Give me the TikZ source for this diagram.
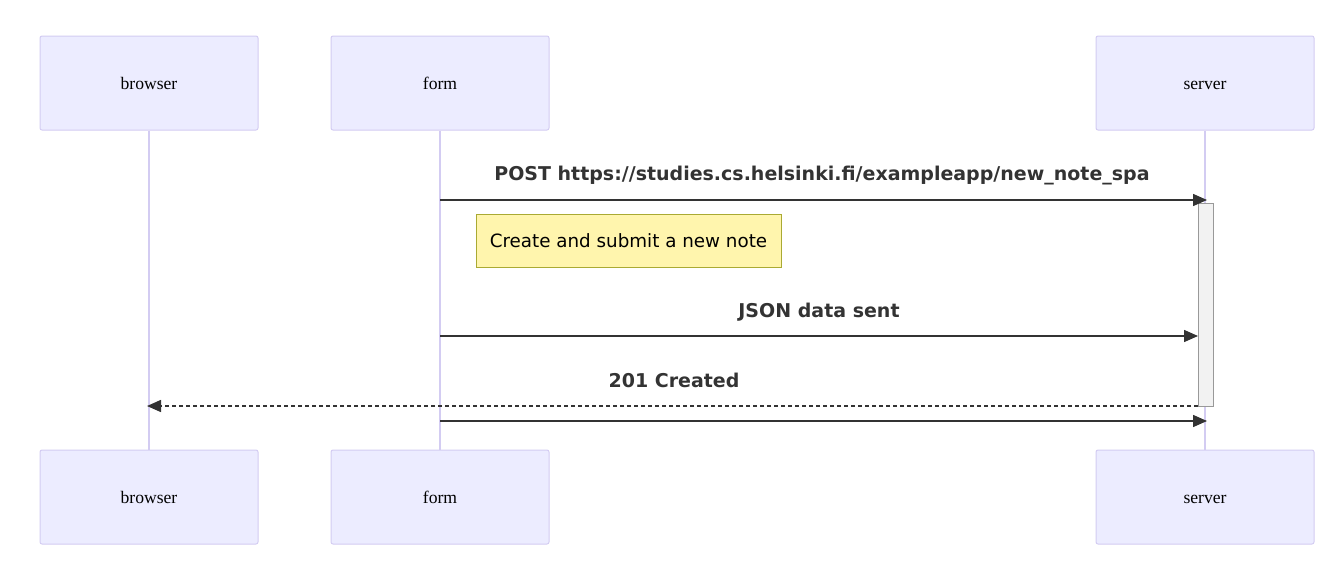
\documentclass[tikz,border=0pt]{standalone}
\usepackage{fontspec}
\setmainfont{Liberation Serif}
\newfontfamily\lblfont{DejaVu Sans}
\usetikzlibrary{arrows.meta}
\definecolor{actfill}{HTML}{ECECFF}
\definecolor{actline}{HTML}{D3CCF2}
\definecolor{notefill}{HTML}{FFF5AD}
\definecolor{noteline}{HTML}{AAAA33}
\definecolor{msg}{HTML}{333333}
\tikzset{
  actor/.style={draw=actline, fill=actfill, rounded corners=2pt, line width=1pt,
    minimum width=218pt, minimum height=94pt, font=\fontsize{17.6}{20}\selectfont, inner sep=0pt,
    text height=12pt, text depth=0pt},
  life/.style={draw=actline, line width=2pt},
  msgline/.style={draw=msg, line width=1.5pt, -{Triangle[length=14pt,width=12pt]}},
  msgdash/.style={msgline, dash pattern=on 4pt off 3pt},
  msglabel/.style={font=\lblfont\bfseries\fontsize{19}{22}\selectfont, text=msg, inner sep=0pt,
    text height=14pt, text depth=0pt},
  notebox/.style={draw=noteline, fill=notefill, line width=1pt, minimum width=305pt, minimum height=53pt,
    font=\lblfont\fontsize{18.3}{21}\selectfont, inner sep=0pt},
  actbar/.style={draw=gray!80, fill=gray!10, line width=1pt}
}
\begin{document}
\begin{tikzpicture}[x=1pt,y=-1pt]
\useasboundingbox (0,0) rectangle (1339,579);
% top actors
\node[actor] (b1) at (149,83) {browser};
\node[actor] (f1) at (440,83) {form};
\node[actor] (s1) at (1205,83) {server};
% bottom actors
\node[actor] (b2) at (149,497) {browser};
\node[actor] (f2) at (440,497) {form};
\node[actor] (s2) at (1205,497) {server};
% lifelines
\draw[life] (b1.south) -- (b2.north);
\draw[life] (f1.south) -- (f2.north);
\draw[life] (s1.south) -- (s2.north);
% activation bar
\draw[actbar] (1198,203) rectangle (1213,406);
% coordinates for messages
\coordinate (m1s) at (440,200);
\coordinate (m1e) at (1207,200);
\coordinate (m2s) at (440,336);
\coordinate (m2e) at (1198,336);
\coordinate (m3s) at (1198,406);
\coordinate (m3e) at (147,406);
\coordinate (m4s) at (440,421);
\coordinate (m4e) at (1207,421);
\draw[msgline] (m1s) -- (m1e);
\node[msglabel] (l1) at (822,173) {POST https://studies.cs.helsinki.fi/exampleapp/new\_note\_spa};
\node[notebox] (note) at (628.5,240.5) {Create and submit a new note};
\draw[msgline] (m2s) -- (m2e);
\node[msglabel] (l2) at (819,310) {JSON data sent};
\draw[msgdash] (m3s) -- (m3e);
\node[msglabel] (l3) at (674,380) {201 Created};
\draw[msgline] (m4s) -- (m4e);
\end{tikzpicture}
\end{document}
